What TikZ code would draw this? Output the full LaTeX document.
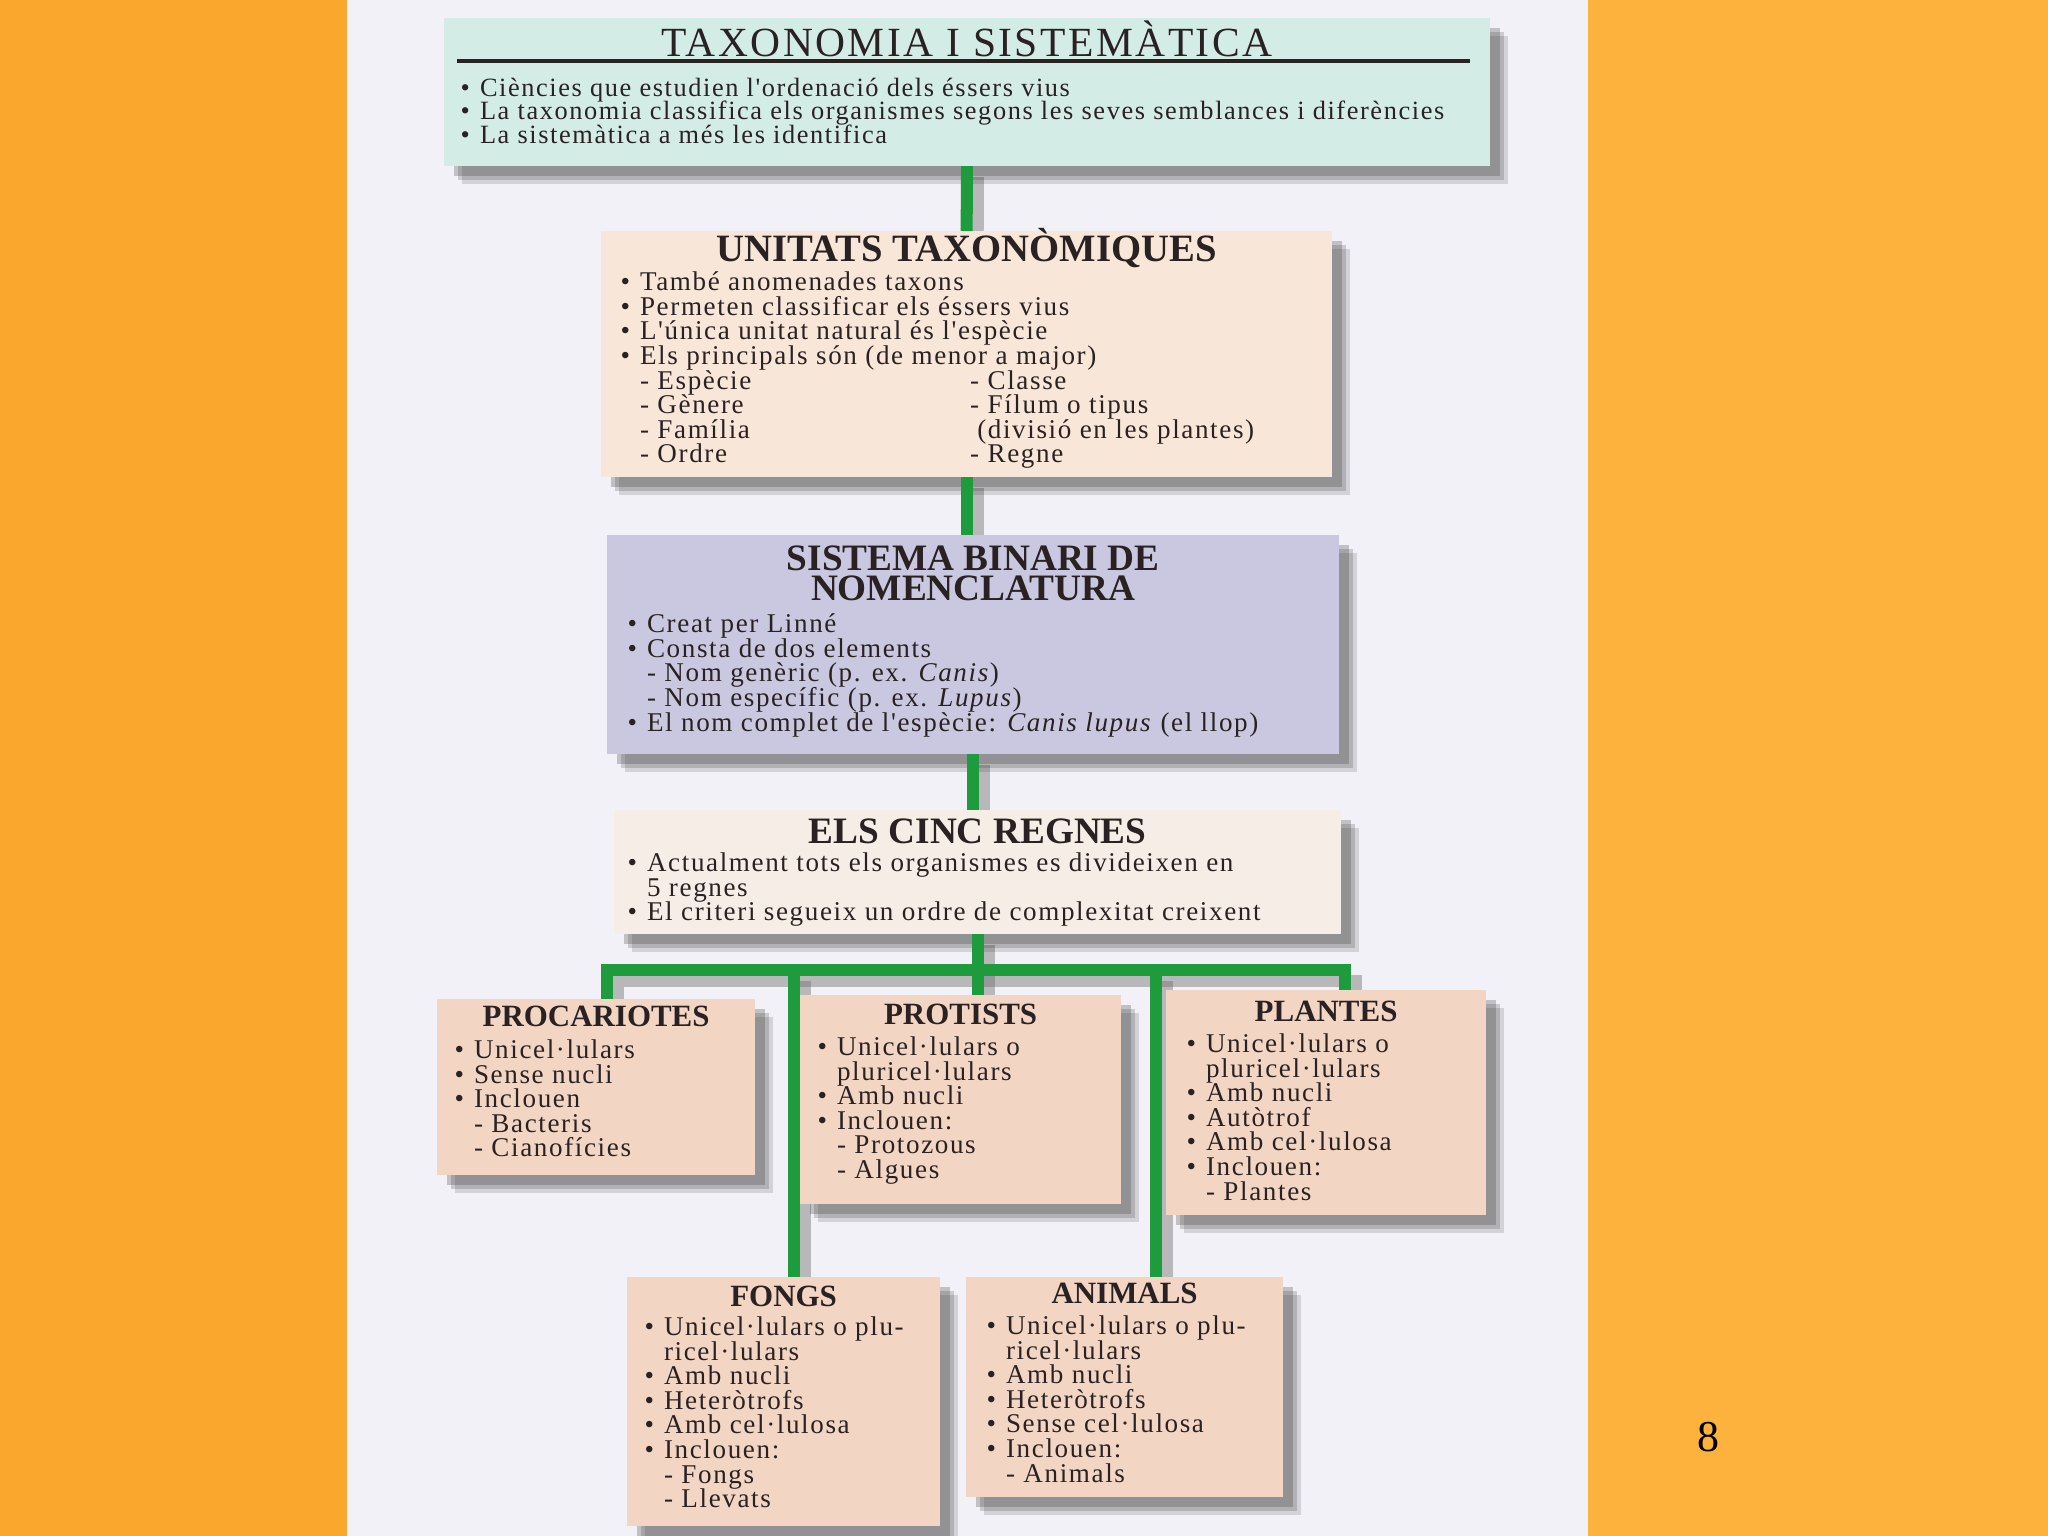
\documentclass[tikz,border=0pt]{standalone}
\usepackage{fontspec}
\setmainfont{Liberation Serif}
\newfontfamily\boxfont{Liberation Serif}[LetterSpace=6]
\newfontfamily\headfont{Liberation Serif}[LetterSpace=6]
\usetikzlibrary{shadows}

\definecolor{pageorange}{HTML}{FAA82D}
\definecolor{pageorangeR}{HTML}{FCB23D}
\definecolor{panel}{HTML}{F1F1F7}
\definecolor{boxteal}{HTML}{D4ECE6}
\definecolor{boxpeach}{HTML}{F8E6D9}
\definecolor{boxlav}{HTML}{C9C8E0}
\definecolor{boxcream}{HTML}{F6EEE6}
\definecolor{boxpink}{HTML}{F3D5C4}
\definecolor{linkgreen}{HTML}{1E9B3C}
\definecolor{ink}{HTML}{2A2222}

\pgfdeclarelayer{bg}
\pgfdeclarelayer{links}
\pgfdeclarelayer{top}
\pgfsetlayers{bg,links,main,top}

\newcommand{\bul}{\makebox[5.5pt][l]{\textbullet}}
\newcommand{\ind}{\hspace*{5.5pt}}
\newcommand{\tightlines}{\lineskiplimit=-20pt\relax}

\begin{document}
\begin{tikzpicture}[x=0.01cm,y=-0.01cm,
    box/.style={anchor=north west, inner sep=0pt, outer sep=0pt,
      general shadow={fill=black!80, opacity=.16, shadow xshift=0.18cm, shadow yshift=-0.18cm},
      general shadow={fill=black!80, opacity=.2, shadow xshift=0.14cm, shadow yshift=-0.14cm},
      general shadow={fill=black!80, opacity=.25, shadow xshift=0.10cm, shadow yshift=-0.10cm}},
    title/.style={font=\fontsize{10.6}{8.6}\selectfont\bfseries, align=center, text=ink, inner sep=0pt},
    kingdom/.style={font=\fontsize{8.8}{9}\selectfont\bfseries, text=ink, inner sep=0pt},
    body/.style={font=\boxfont\fontsize{7.7}{7}\selectfont\tightlines, align=left, text=ink, inner sep=0pt, anchor=north west},
    link/.style={draw=linkgreen, line width=0.12cm, line join=miter},
    linkshade/.style={draw=black!55, opacity=.45, line width=0.12cm, transform canvas={shift={(0.11cm,-0.11cm)}}}]
\useasboundingbox (0,0) rectangle (2048,1536);

\begin{pgfonlayer}{bg}
  \fill[pageorange] (0,0) rectangle (347,1536);
  \fill[pageorangeR] (1588,0) rectangle (2048,1536);
  \fill[panel] (347,0) rectangle (1588,1536);
\end{pgfonlayer}

% boxes
\node[box, fill=boxteal, minimum width=10.45cm, minimum height=1.48cm] (taxo) at (444,18) {};
\node[box, fill=boxpeach, minimum width=7.31cm, minimum height=2.46cm] (unitats) at (601,231) {};
\node[box, fill=boxlav, minimum width=7.32cm, minimum height=2.19cm] (sistema) at (607,535) {};
\node[box, fill=boxcream, minimum width=7.27cm, minimum height=1.24cm] (regnes) at (614,810) {};
\node[box, fill=boxpink, minimum width=3.18cm, minimum height=1.76cm] (procar) at (437,999) {};
\node[box, fill=boxpink, minimum width=3.21cm, minimum height=2.09cm] (protist) at (800,995) {};
\node[box, fill=boxpink, minimum width=3.20cm, minimum height=2.25cm] (plantes) at (1166,990) {};
\node[box, fill=boxpink, minimum width=3.13cm, minimum height=2.49cm] (fongs) at (627,1277) {};
\node[box, fill=boxpink, minimum width=3.17cm, minimum height=2.20cm] (animals) at (966,1277) {};

% texts
\node[font=\headfont\fontsize{11.8}{12}\selectfont, text=ink, inner sep=0pt, anchor=base] (taxotitle) at ([shift={(0,38)}]taxo.north) {TAXONOMIA I SISTEMÀTICA};
\draw[ink, line width=1.4pt] ([shift={(13,43)}]taxo.north west) -- ([shift={(-20,43)}]taxo.north east);
\node[body, font=\boxfont\fontsize{7.5}{6.7}\selectfont\tightlines] (taxobody) at ([shift={(16,59)}]taxo.north west) {%
  \bul Ciències que estudien l'ordenació dels éssers vius\\
  \bul La taxonomia classifica els organismes segons les seves semblances i diferències\\
  \bul La sistemàtica a més les identifica};

\node[title, font=\fontsize{11}{9}\selectfont\bfseries] (unitatstitle) at ([shift={(0,17)}]unitats.north) {UNITATS TAXONÒMIQUES};
\node[body] (unitatsbody) at ([shift={(19,40)}]unitats.north west) {%
  \bul També anomenades taxons\\
  \bul Permeten classificar els éssers vius\\
  \bul L'única unitat natural és l'espècie\\
  \bul Els principals són (de menor a major)\\
  \ind\makebox[3.3cm][l]{- Espècie}- Classe\\
  \ind\makebox[3.3cm][l]{- Gènere}- Fílum o tipus\\
  \ind\makebox[3.3cm][l]{- Família}\hspace*{2pt}(divisió en les plantes)\\
  \ind\makebox[3.3cm][l]{- Ordre}- Regne};

\node[title] (sistematitle) at ([shift={(0,38)}]sistema.north) {SISTEMA BINARI DE\\NOMENCLATURA};
\node[body] (sistemabody) at ([shift={(20,78)}]sistema.north west) {%
  \bul Creat per Linné\\
  \bul Consta de dos elements\\
  \ind- Nom genèric (p. ex. \textit{Canis})\\
  \ind- Nom específic (p. ex. \textit{Lupus})\\
  \bul El nom complet de l'espècie: \textit{Canis lupus} (el llop)};

\node[title] (regnestitle) at ([shift={(0,21)}]regnes.north) {ELS CINC REGNES};
\node[body] (regnesbody) at ([shift={(13,42)}]regnes.north west) {%
  \bul Actualment tots els organismes es divideixen en\\
  \ind 5 regnes\\
  \bul El criteri segueix un ordre de complexitat creixent};

\node[kingdom] (procartitle) at ([shift={(0,17)}]procar.north) {PROCARIOTES};
\node[body] (procarbody) at ([shift={(17,40)}]procar.north west) {%
  \bul Unicel·lulars\\
  \bul Sense nucli\\
  \bul Inclouen\\
  \ind- Bacteris\\
  \ind- Cianofícies};

\node[kingdom] (protisttitle) at ([shift={(0,19)}]protist.north) {PROTISTS};
\node[body] (protistbody) at ([shift={(17,41)}]protist.north west) {%
  \bul Unicel·lulars o\\
  \ind pluricel·lulars\\
  \bul Amb nucli\\
  \bul Inclouen:\\
  \ind- Protozous\\
  \ind- Algues};

\node[kingdom] (plantestitle) at ([shift={(0,21)}]plantes.north) {PLANTES};
\node[body] (plantesbody) at ([shift={(20,43)}]plantes.north west) {%
  \bul Unicel·lulars o\\
  \ind pluricel·lulars\\
  \bul Amb nucli\\
  \bul Autòtrof\\
  \bul Amb cel·lulosa\\
  \bul Inclouen:\\
  \ind- Plantes};

\node[kingdom] (fongstitle) at ([shift={(0,19)}]fongs.north) {FONGS};
\node[body] (fongsbody) at ([shift={(17,39)}]fongs.north west) {%
  \bul Unicel·lulars o plu-\\
  \ind ricel·lulars\\
  \bul Amb nucli\\
  \bul Heteròtrofs\\
  \bul Amb cel·lulosa\\
  \bul Inclouen:\\
  \ind- Fongs\\
  \ind- Llevats};

\node[kingdom] (animalstitle) at ([shift={(0,16)}]animals.north) {ANIMALS};
\node[body] (animalsbody) at ([shift={(20,38)}]animals.north west) {%
  \bul Unicel·lulars o plu-\\
  \ind ricel·lulars\\
  \bul Amb nucli\\
  \bul Heteròtrofs\\
  \bul Sense cel·lulosa\\
  \bul Inclouen:\\
  \ind- Animals};

\node[font=\fontsize{12.5}{14}\selectfont, inner sep=0pt] (pagenum) at (1708,1437) {8};

% green links
\coordinate (barL) at (607,970);
\coordinate (barR) at (1345,970);
\coordinate (barF) at (794,970);
\coordinate (barA) at (1156,970);

\begin{pgfonlayer}{links}
  \draw[linkshade] (taxo.south) -- (unitats.north);
  \draw[linkshade] (unitats.south) -- (unitats.south |- sistema.north);
  \draw[linkshade] (sistema.south) -- (sistema.south |- regnes.north);
  \draw[linkshade] (regnes.south) -- (regnes.south |- protist.north);
  \draw[linkshade] (barL |- procar.north) -- (barL) -- (barR) -- (barR |- plantes.north);
  \draw[linkshade] (barF) -- (barF |- fongs.north);
  \draw[linkshade] (barA) -- (barA |- animals.north);
\end{pgfonlayer}
\begin{pgfonlayer}{top}
  \draw[link] (taxo.south) -- (unitats.north);
  \draw[link] (unitats.south) -- (unitats.south |- sistema.north);
  \draw[link] (sistema.south) -- (sistema.south |- regnes.north);
  \draw[link] (regnes.south) -- (regnes.south |- protist.north);
  \draw[link] (barL |- procar.north) -- (barL) -- (barR) -- (barR |- plantes.north);
  \draw[link] (barF) -- (barF |- fongs.north);
  \draw[link] (barA) -- (barA |- animals.north);
\end{pgfonlayer}
\end{tikzpicture}
\end{document}
